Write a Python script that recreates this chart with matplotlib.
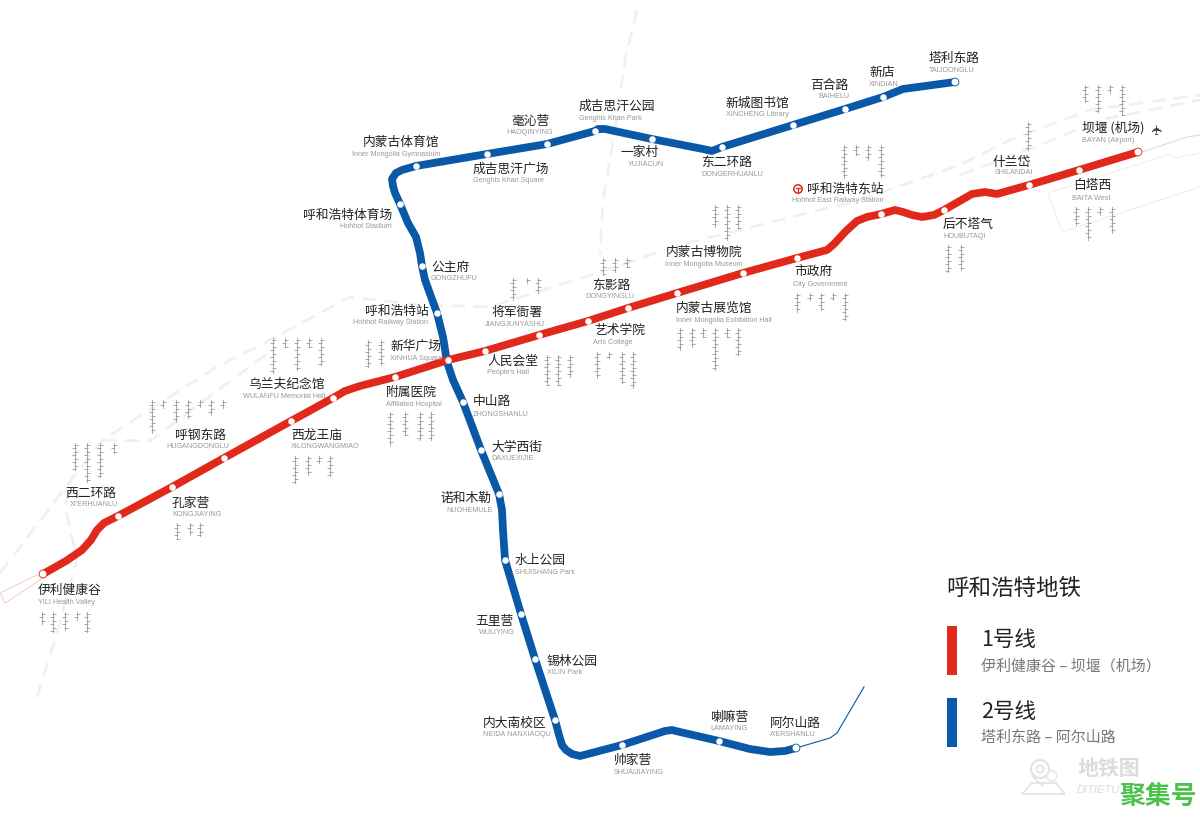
import numpy as np
import matplotlib
matplotlib.use('Agg')
import matplotlib.pyplot as plt
from matplotlib.patches import Circle, Polygon, Rectangle

plt.rcParams['font.family'] = ['Noto Sans CJK SC', 'DejaVu Sans']

RED = '#e1291b'
BLUE = '#0a58a8'

# track shapes in pixels
line1_x = [43, 66, 82, 91, 97, 104, 118, 172, 224, 291, 333, 345, 360, 395, 448, 485, 539, 588, 628, 677, 743,
           797, 827, 834, 846, 857, 867, 881, 895, 903, 912, 922, 934, 944, 958, 972, 985, 997, 1029, 1079, 1138]
line1_y = [574, 561, 550, 540, 530, 523, 516, 487, 458, 421, 398, 391, 386, 377, 360, 351, 335, 321, 308, 293, 273,
           258, 250, 244, 231, 221, 217, 214, 210, 212, 215, 217, 215, 210, 202, 194, 192, 194, 185, 170, 152]
line2_x = [955, 903, 883, 845, 793, 722, 712, 703, 652, 605, 598, 595, 547, 487, 416, 402, 396, 392, 393, 395, 400,
           408, 416, 420, 422, 425, 437, 443, 447, 453, 463, 481, 499, 502, 503, 505, 521, 535, 555, 559, 562, 566,
           572, 580, 622, 665, 672, 680, 719, 750, 770, 785, 796]
line2_y = [82, 89, 97, 109, 125, 147, 151, 149, 139, 129, 129, 131, 144, 154, 166, 170, 173, 179, 186, 193, 204,
           223, 237, 253, 266, 280, 313, 337, 362, 380, 402, 450, 494, 510, 530, 560, 614, 659, 720, 735, 745, 750,
           754, 756, 745, 731, 730, 732, 741, 749, 752, 751, 748]
branch_x = [796, 830, 837, 864]
branch_y = [748, 738, 733, 687]

# stations on each line
line1_sx = [118, 172, 224, 291, 333, 395, 448, 485, 539, 588, 628, 677, 743, 797, 881, 944, 1029, 1079]
line1_sy = [516, 487, 458, 421, 398, 377, 360, 351, 335, 321, 308, 293, 273, 258, 214, 210, 185, 170]
line2_sx = [883, 845, 793, 722, 652, 595, 547, 487, 416, 400, 422, 437, 463, 481, 499, 505, 521, 535, 555, 622, 719]
line2_sy = [97, 109, 125, 147, 139, 131, 144, 154, 166, 204, 266, 313, 402, 450, 494, 560, 614, 659, 720, 745, 741]
term_x = [43, 1138, 955, 796]
term_y = [574, 152, 82, 748]
term_colors = [RED, RED, BLUE, BLUE]

# station names, with left edge and middle height of each label
names_cn = ['伊利健康谷', '西二环路', '孔家营', '呼钢东路', '西龙王庙', '乌兰夫纪念馆', '附属医院', '新华广场', '人民会堂',
            '将军衙署', '艺术学院', '东影路', '内蒙古展览馆', '内蒙古博物院', '市政府', '呼和浩特东站', '后不塔气',
            '什兰岱', '白塔西', '坝堰 (机场)',
            '塔利东路', '新店', '百合路', '新城图书馆', '东二环路', '一家村', '成吉思汗公园', '毫沁营', '成吉思汗广场',
            '内蒙古体育馆', '呼和浩特体育场', '公主府', '呼和浩特站', '中山路', '大学西街', '诺和木勒', '水上公园',
            '五里营', '锡林公园', '内大南校区', '帅家营', '喇嘛营', '阿尔山路']
cn_x = [38, 65, 172, 175, 291, 248, 386, 390, 487, 491, 594, 592, 676, 666, 794, 807, 943, 993, 1073, 1082,
        929, 869, 810, 725, 701, 620, 579, 511, 473, 363, 303, 431, 365, 473, 491, 440, 515, 475, 547, 483, 614, 710, 770]
cn_y = [590, 493, 503, 435, 435, 384, 392, 346, 361, 312, 330, 285, 308, 252, 272, 189, 224, 162, 186, 128,
        58, 72, 85, 103, 162, 152, 106, 122, 169, 142, 215, 267, 311, 402, 447, 498, 560, 621, 661, 723, 760, 717, 723]
names_en = ['YILI Health Valley', "XI'ERHUANLU", 'KONGJIAYING', 'HUGANGDONGLU', 'XILONGWANGMIAO',
            'WULANFU Memorial Hall', 'Affiliated Hospital', 'XINHUA Square', "People's Hall", 'JIANGJUNYASHU',
            'Arts College', 'DONGYINGLU', 'Inner Mongolia Exhibition Hall', 'Inner Mongolia Museum', 'City Government',
            'Hohhot East Railway Station', 'HOUBUTAQI', 'SHILANDAI', 'BAITA West', 'BAYAN (Airport)',
            'TALIDONGLU', 'XINDIAN', 'BAIHELU', 'XINCHENG Library', 'DONGERHUANLU', 'YUJIACUN', 'Genghis Khan Park',
            'HAOQINYING', 'Genghis Khan Square', 'Inner Mongolia Gymnasium', 'Hohhot Stadium', 'GONGZHUFU',
            'Hohhot Railway Station', 'ZHONGSHANLU', 'DAXUEXIJIE', 'NUOHEMULE', 'SHUISHANG Park', 'WULIYING',
            'XILIN Park', 'NEIDA NANXIAOQU', 'SHUAIJIAYING', 'LAMAYING', "A'ERSHANLU"]
en_x = [38, 70, 172, 166, 291, 243, 386, 390, 487, 485, 593, 585, 676, 665, 793, 792, 943, 995, 1072, 1082,
        929, 869, 818, 726, 701, 628, 579, 506, 473, 352, 340, 431, 353, 473, 491, 446, 515, 479, 547, 483, 614, 710, 770]
en_y = [602, 505, 514, 447, 447, 396, 404, 358, 373, 324, 342, 297, 320, 264, 284, 201, 236, 173, 198, 140,
        70, 84, 97, 115, 174, 164, 118, 133, 181, 154, 227, 279, 323, 414, 458, 510, 572, 633, 673, 735, 772, 729, 735]

# vertical script columns: x, top, bottom
script_x = [42, 53, 65, 77, 87, 75, 87, 100, 114, 152, 163, 176, 188, 200, 211, 223, 177, 190, 200, 273, 285, 297, 309, 321,
            295, 308, 319, 330, 390, 405, 420, 431, 368, 381, 547, 558, 570, 513, 527, 538, 603, 615, 627, 597, 609, 622, 633,
            680, 692, 703, 715, 727, 738, 715, 727, 738, 797, 810, 821, 833, 845, 844, 856, 868, 881, 948, 961, 1028,
            1076, 1088, 1100, 1112, 1085, 1098, 1110, 1122]
script_top = [612, 612, 612, 612, 612, 443, 443, 443, 443, 400, 400, 400, 400, 400, 400, 400, 523, 523, 523, 338, 338, 338, 338, 338,
              456, 456, 456, 456, 412, 412, 412, 412, 340, 340, 355, 355, 355, 278, 278, 278, 258, 258, 258, 352, 352, 352, 352,
              328, 328, 328, 328, 328, 328, 205, 205, 205, 293, 293, 293, 293, 293, 145, 145, 145, 145, 245, 245, 122,
              207, 207, 207, 207, 85, 85, 85, 85]
script_bottom = [624, 632, 630, 620, 632, 470, 482, 477, 453, 433, 408, 422, 418, 407, 415, 408, 539, 535, 536, 373, 347, 370, 347, 365,
                 483, 475, 463, 476, 445, 435, 440, 440, 367, 365, 385, 385, 377, 300, 283, 293, 275, 272, 267, 378, 358, 383, 388,
                 350, 347, 337, 370, 337, 355, 227, 240, 228, 312, 300, 310, 300, 320, 178, 155, 160, 177, 272, 270, 150,
                 225, 240, 215, 233, 102, 112, 93, 115]

# faint background rail and outlines
rail_paths = [
    ([37, 55, 77, 65, 72], [697, 640, 560, 507, 477]),
    ([0, 33, 75, 103, 160, 215, 270, 350, 420, 490, 600, 680, 760, 860, 960, 1010, 1090, 1200],
     [573, 530, 475, 440, 403, 368, 340, 297, 305, 307, 272, 245, 225, 200, 165, 140, 110, 95]),
    ([103, 150, 165, 225, 275], [440, 441, 430, 385, 348]),
    ([960, 1040, 1100, 1200], [175, 145, 120, 100]),
    ([637, 625, 615, 603, 600], [10, 60, 130, 200, 255]),
]
pink_paths = [
    ([37, 0, 5, 43], [575, 593, 603, 578]),
    ([1142, 1187, 1200], [152, 137, 135]),
]
grey_outline_x = [1200, 1175, 1170, 1048, 1062, 1200]
grey_outline_y = [153, 158, 154, 193, 232, 187]

fig = plt.figure(figsize=(12, 8.25), dpi=100)
ax = fig.add_axes([0, 0, 1, 1])
ax.set_xlim(0, 1200)
ax.set_ylim(825, 0)
ax.axis('off')

for xs, ys in rail_paths:
    ax.plot(xs, ys, color='#f0f0f0', lw=2, ls=(0, (5, 3)), zorder=1)
for xs, ys in pink_paths:
    ax.plot(xs, ys, color='#f4d3cd', lw=0.8, zorder=1)
ax.plot(grey_outline_x, grey_outline_y, color='#eeeeee', lw=0.8, zorder=1)

# script columns, stem with little teeth either side
for x, top, bottom in zip(script_x, script_top, script_bottom):
    ax.plot([x, x], [top, bottom], color='#999999', lw=0.6, zorder=2)
    teeth = np.arange(top + 1.5, bottom, 3.5)
    side = np.where(np.arange(len(teeth)) % 2 == 0, 1.2, -1.2)
    ax.plot(x + side, teeth, ls='none', marker='_', ms=2.6, mew=0.6, color='#999999', zorder=2)

ax.plot(branch_x, branch_y, color=BLUE, lw=0.8, zorder=3)
ax.plot(line2_x, line2_y, color=BLUE, lw=5.6, solid_capstyle='round', solid_joinstyle='round', zorder=4)
ax.plot(line1_x, line1_y, color=RED, lw=5.6, solid_capstyle='round', solid_joinstyle='round', zorder=5)

ax.scatter(line1_sx, line1_sy, s=22, color='white', linewidths=0, zorder=6)
ax.scatter(line2_sx, line2_sy, s=22, color='white', linewidths=0, zorder=6)
ax.scatter(term_x, term_y, s=32, color='white', edgecolors=term_colors, linewidths=0.6, zorder=6)

for name, x, y in zip(names_cn, cn_x, cn_y):
    ax.text(x, y, name, fontsize=9.2, color='#222222', ha='left', va='center', zorder=7)
for name, x, y in zip(names_en, en_x, en_y):
    ax.text(x, y, name, fontsize=5.2, color='#999999', ha='left', va='center', family='Liberation Sans', zorder=7)

# airport plane and railway station sign
ax.text(1157, 129, '✈', fontsize=10, color='#333333', ha='center', va='center', family='DejaVu Sans', rotation=90)
ax.add_patch(Circle((798, 189), 4.2, fc='white', ec=RED, lw=1.1, zorder=7))
ax.plot([798, 798], [188, 192], color=RED, lw=0.9, zorder=8)
ax.plot([796, 800], [188, 188], color=RED, lw=0.9, zorder=8)

# legend block
ax.text(946, 588, '呼和浩特地铁', fontsize=16.2, color='#222222', ha='left', va='center')
ax.add_patch(Rectangle((947, 626), 9.5, 49, fc=RED, ec='none'))
ax.add_patch(Rectangle((947, 698), 9.5, 49, fc=BLUE, ec='none'))
ax.text(981, 640, '1号线', fontsize=15.5, color='#222222', ha='left', va='center')
ax.text(981, 712, '2号线', fontsize=15.5, color='#222222', ha='left', va='center')
ax.text(981, 666, '伊利健康谷 – 坝堰（机场）', fontsize=10.8, color='#777777', ha='left', va='center')
ax.text(981, 738, '塔利东路 – 阿尔山路', fontsize=10.8, color='#777777', ha='left', va='center')

# watermark
ax.add_patch(Circle((1040, 769), 9, fc='none', ec='#e2e2e2', lw=1.5))
ax.add_patch(Circle((1040, 769), 3.5, fc='none', ec='#e2e2e2', lw=1.2))
ax.add_patch(Circle((1052, 776), 5, fc='none', ec='#e8e8e8', lw=1.2))
ax.plot([1033, 1043], [777, 786], color='#e2e2e2', lw=1.2)
ax.add_patch(Polygon([[1032, 783], [1056, 783], [1065, 794], [1022, 794]], closed=True, fc='none', ec='#e2e2e2', lw=1.2))
ax.text(1078, 768, '地铁图', fontsize=15, color='#dcdcdc', ha='left', va='center', style='italic', weight='bold')
ax.text(1077, 790, 'DITIETU', fontsize=8, color='#dcdcdc', ha='left', va='center', style='italic', family='Liberation Sans')
ax.text(1119, 796, '聚集号', fontsize=18.6, color='#4cc24c', ha='left', va='center', weight='bold', zorder=9)

fig.savefig('out.png', dpi=100)
